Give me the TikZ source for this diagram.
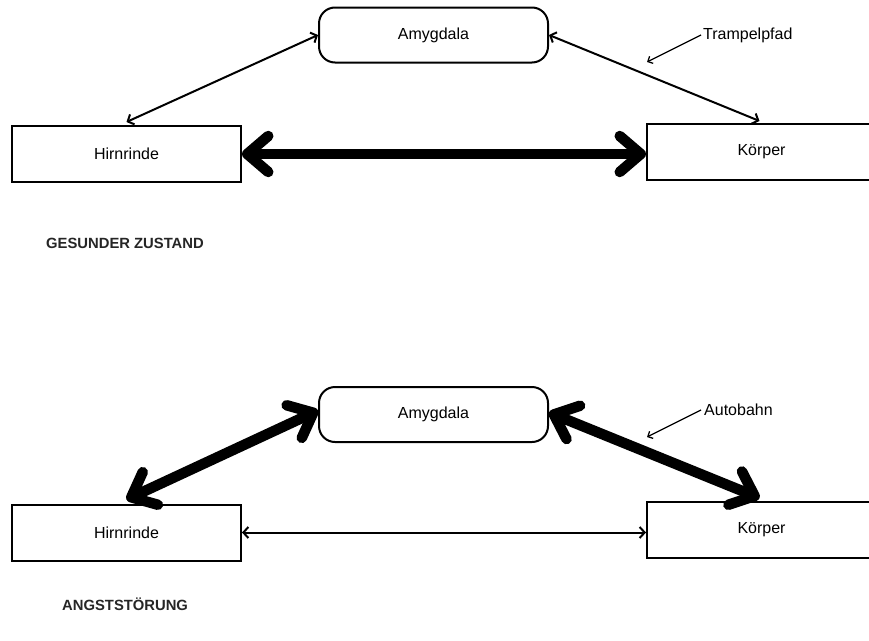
\documentclass[tikz,border=0pt]{standalone}
\usepackage{fontspec}
\setmainfont{Liberation Sans}
\usetikzlibrary{arrows.meta}
\tikzset{
  box/.style={draw, line width=2pt, minimum height=56pt, inner sep=0pt, font=\fontsize{16}{19}\selectfont},
  roundbox/.style={box, rounded corners=16pt, minimum height=55pt, minimum width=229pt},
  thinlink/.style={line width=2pt, {Straight Barb[length=5pt,width=11pt]}-{Straight Barb[length=5pt,width=11pt]}},
  thicklink/.style={line width=10.5pt, {Straight Barb[length=21pt,width=36pt,round]}-{Straight Barb[length=21pt,width=36pt,round]}},
  pointer/.style={line width=1.3pt, -{Straight Barb[length=4pt,width=8pt]}},
  note/.style={anchor=west, inner sep=0pt, font=\fontsize{16}{19}\selectfont},
  heading/.style={anchor=west, inner sep=0pt, text=black!85, font=\bfseries\fontsize{14.8}{18}\selectfont},
}
\begin{document}
\begin{tikzpicture}[x=1pt, y=-1pt]
\useasboundingbox[fill=white] (0,0) rectangle (869,640);
\clip (0,0) rectangle (869,640);

% ---- top: healthy state
\node[roundbox] (amy1) at (433.5,35) {Amygdala};
\node[box, minimum width=229pt] (hirn1) at (126.5,154) {Hirnrinde};
\node[box, minimum width=229pt] (koer1) at (761.5,152) {Körper};
\node[note] (tramp) at (703,35) {Trampelpfad};
\coordinate (tramptip) at (647,62);
\node[heading] (gesund) at (46,243) {GESUNDER ZUSTAND};

\draw[thinlink] ([yshift=3pt]hirn1.north) -- (amy1.west);
\draw[thinlink] (amy1.east) -- ([xshift=-2pt,yshift=2pt]koer1.north);
\draw[thicklink] (hirn1.east) -- (hirn1.east -| koer1.west);
\draw[pointer] ([xshift=-2pt]tramp.west) -- (tramptip);

% ---- bottom: anxiety disorder
\node[roundbox] (amy2) at (433.5,414.5) {Amygdala};
\node[box, minimum width=229pt] (hirn2) at (126.5,532.5) {Hirnrinde};
\node[box, minimum width=229pt] (koer2) at (761.5,530) {Körper};
\node[note] (auto) at (704,410) {Autobahn};
\coordinate (autotip) at (647,437);
\node[heading] (angst) at (62,604) {ANGSTSTÖRUNG};

\draw[thicklink] ([yshift=4pt]hirn2.north) -- ([yshift=4pt]amy2.west);
\draw[thicklink] ([yshift=2pt]amy2.east) -- ([xshift=-2pt,yshift=3pt]koer2.north);
\draw[thinlink] (hirn2.east) -- (hirn2.east -| koer2.west);
\draw[pointer] ([xshift=-3pt]auto.west) -- (autotip);
\end{tikzpicture}
\end{document}
